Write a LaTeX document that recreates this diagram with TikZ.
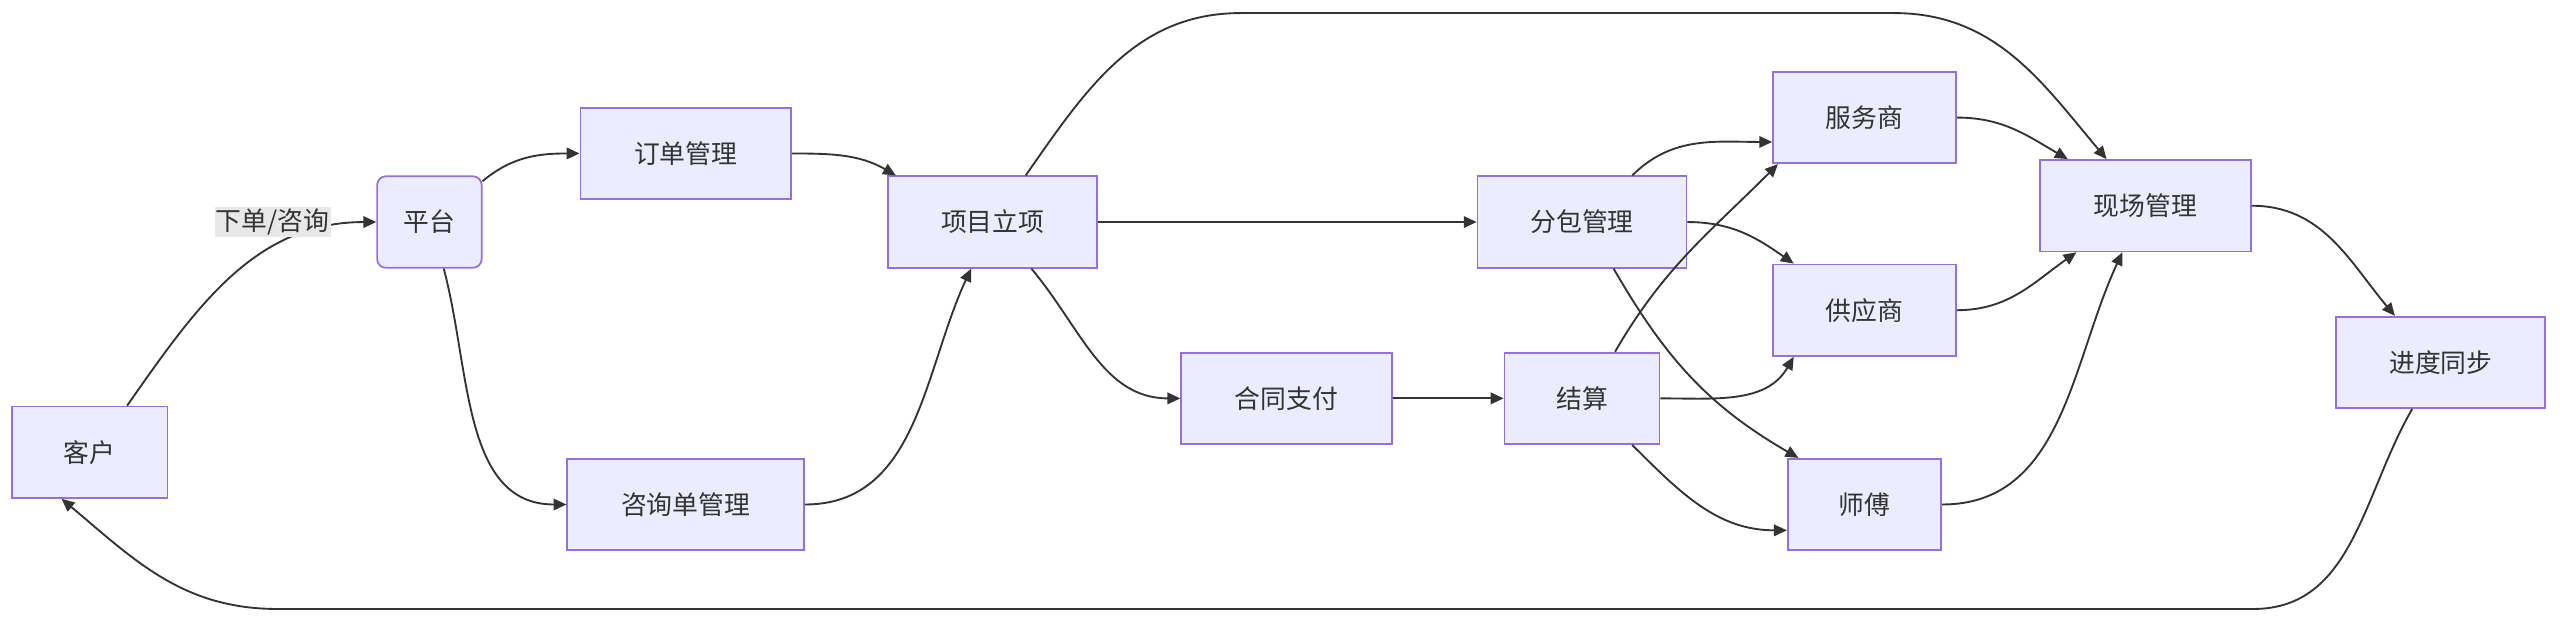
\documentclass[tikz,border=0pt]{standalone}
\usepackage{fontspec}
\setmainfont{Noto Sans CJK SC}
\usetikzlibrary{arrows.meta}
\definecolor{boxfill}{HTML}{ECECFF}
\definecolor{boxline}{HTML}{9370DB}
\definecolor{edgeline}{HTML}{333333}
\tikzset{
    box/.style = {
        draw = boxline,
        fill = boxfill,
        line width = 1.2pt,
        text = edgeline,
        font = \fontsize{18}{22}\selectfont,
        inner sep = 0pt,
        minimum height = 2.24cm,
        },
    flow/.style = {
        draw = edgeline,
        line width = 1.3pt,
        -{Triangle[length=9pt,width=8pt]},
        },
    tag/.style = {
        fill = gray!18,
        text = edgeline,
        font = \fontsize{18}{22}\selectfont,
        inner sep = 1pt,
        },
}
\begin{document}
\begin{tikzpicture}[x=0.04cm, y=-0.04cm]
    \useasboundingbox (0,0) rectangle (1568,382);
    % nodes
    \node[box, minimum width=3.8cm] (kehu) at (55,277) {客户};
    \node[box, minimum width=2.56cm, rounded corners=6pt] (pingtai) at (263,136) {平台};
    \node[box, minimum width=5.16cm] (dingdan) at (420,94) {订单管理};
    \node[box, minimum width=5.8cm] (zixun) at (420,309) {咨询单管理};
    \node[box, minimum width=5.12cm] (xiangmu) at (608,136) {项目立项};
    \node[box, minimum width=5.16cm] (hetong) at (788,244) {合同支付};
    \node[box, minimum width=5.12cm] (fenbao) at (969,136) {分包管理};
    \node[box, minimum width=3.8cm] (jiesuan) at (969,244) {结算};
    \node[box, minimum width=4.48cm] (fuwu) at (1142,72) {服务商};
    \node[box, minimum width=4.48cm] (gongying) at (1142,190) {供应商};
    \node[box, minimum width=3.76cm] (shifu) at (1142,309) {师傅};
    \node[box, minimum width=5.16cm] (xianchang) at (1314,126) {现场管理};
    \node[box, minimum width=5.12cm] (jindu) at (1495,222) {进度同步};

    % edges
    \draw[flow] ([xshift=26pt]kehu.north) to[out=55, in=180] (pingtai.west);
    \node[tag] (xiadan) at (167,136) {下单/咨询};
    \draw[flow] ([yshift=-4pt]pingtai.north east) to[out=40, in=180] (dingdan.west);
    \draw[flow] ([xshift=10pt]pingtai.south) to[out=-75, in=180] (zixun.west);
    \draw[flow] (dingdan.east) to[out=0, in=150] ([xshift=6pt]xiangmu.north west);
    \draw[flow] (zixun.east) to[out=0, in=-115] ([xshift=-15pt]xiangmu.south);
    \draw[flow] (xiangmu.east) -- (fenbao.west);
    \draw[flow] ([xshift=27pt]xiangmu.south) to[out=-50, in=180] (hetong.west);
    \draw[flow] ([xshift=23pt]xiangmu.north) to[out=55, in=180] (760,8) -- (1160,8)
        to[out=0, in=130] ([xshift=-27pt]xianchang.north);
    \draw[flow] (hetong.east) -- (jiesuan.west);
    \draw[flow] ([xshift=35pt]fenbao.north) to[out=45, in=180] ([yshift=-17pt]fuwu.west);
    \draw[flow] ([yshift=-0pt]fenbao.east) to[out=0, in=145] ([xshift=15pt]gongying.north west);
    \draw[flow] ([xshift=22pt]fenbao.south) to[out=-60, in=150] ([xshift=8pt]shifu.north west);
    \draw[flow] ([xshift=23pt]jiesuan.north) to[out=60, in=-135] ([xshift=4pt]fuwu.south west);
    \draw[flow] (jiesuan.east) to[out=0, in=-120] ([xshift=15pt]gongying.south west);
    \draw[flow] ([xshift=35pt]jiesuan.south) to[out=-45, in=180] ([yshift=-18pt]shifu.west);
    \draw[flow] (fuwu.east) to[out=0, in=150] ([xshift=20pt]xianchang.north west);
    \draw[flow] (gongying.east) to[out=0, in=-145] ([xshift=26pt]xianchang.south west);
    \draw[flow] (shifu.east) to[out=0, in=-115] ([xshift=-16pt]xianchang.south);
    \draw[flow] (xianchang.east) to[out=0, in=130] ([xshift=-32pt]jindu.north);
    \draw[flow] ([xshift=-20pt]jindu.south) to[out=-120, in=0] (1380,373) -- (170,373)
        to[out=180, in=-40] ([xshift=35pt]kehu.south west);
\end{tikzpicture}
\end{document}
